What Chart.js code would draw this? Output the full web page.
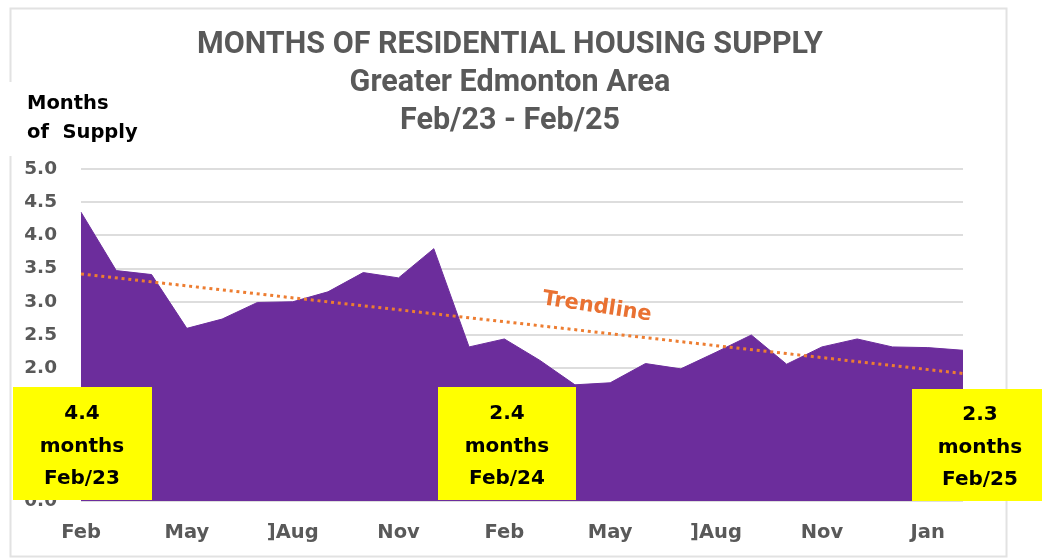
<!DOCTYPE html>
<html>
<head>
<meta charset="utf-8">
<script src="https://cdn.jsdelivr.net/npm/chart.js@4.4.1/dist/chart.umd.min.js"></script>
<style>
  html, body { margin: 0; padding: 0; background: #ffffff; }
  #wrap { width: 1042px; height: 558px; position: relative; }
</style>
</head>
<body>
<div id="wrap"><canvas id="c" width="1042" height="558"></canvas></div>
<script>
// ---- Data ----
const categories = ['Feb','','','May','','',']Aug','','','Nov','','',
                    'Feb','','','May','','',']Aug','','','Nov','','','Jan',''];
const supplyValues = [4.35, 3.47, 3.41, 2.60, 2.74, 2.99, 3.00, 3.15, 3.44, 3.36, 3.80, 2.32,
                      2.44, 2.12, 1.75, 1.78, 2.07, 1.99, 2.24, 2.50, 2.06, 2.32, 2.44, 2.32, 2.31, 2.27];
const trendStart = 3.42;
const trendEnd = 1.92;
const trendValues = categories.map((_, i) => i === 0 ? trendStart : (i === categories.length - 1 ? trendEnd : null));
const yTicks = [0, 0.5, 1, 1.5, 2, 2.5, 3, 3.5, 4, 4.5, 5];
const titleLines = ['MONTHS OF RESIDENTIAL HOUSING SUPPLY', 'Greater Edmonton Area', 'Feb/23 - Feb/25'];
const yTitleLines = ['Months', 'of  Supply'];
const calloutValues = ['4.4', '2.4', '2.3'];
const calloutPeriods = ['Feb/23', 'Feb/24', 'Feb/25'];
const trendLabel = 'Trendline';

// ---- Styles ----
const PURPLE = '#6C2D9C';
const ORANGE = '#ED7D31';
const GRAY = '#595959';
const BOLD = '"DejaVu Sans", sans-serif';

const decorPlugin = {
  id: 'decor',
  beforeDraw(chart) {
    const ctx = chart.ctx;
    ctx.save();
    ctx.fillStyle = '#ffffff';
    ctx.fillRect(0, 0, chart.width, chart.height);
    // outer frame
    ctx.strokeStyle = '#e2e2e2';
    ctx.lineWidth = 2;
    ctx.strokeRect(10.5, 8.5, 996, 548);
    // white box behind y title
    ctx.fillStyle = '#ffffff';
    ctx.fillRect(4, 82, 150, 74);
    // title
    ctx.fillStyle = GRAY;
    ctx.textAlign = 'center';
    ctx.textBaseline = 'middle';
    ctx.font = 'bold 30.5px Roboto, sans-serif';
    const ty = [45, 83, 121];
    titleLines.forEach((t, i) => ctx.fillText(t, 510, ty[i]));
    // y-axis title
    ctx.fillStyle = '#000000';
    ctx.textAlign = 'left';
    ctx.font = 'bold 19.5px ' + BOLD;
    ctx.fillText(yTitleLines[0], 27, 104);
    ctx.fillText(yTitleLines[1], 27, 133);
    ctx.restore();
  },
  afterDatasetsDraw(chart) {
    const ctx = chart.ctx;
    ctx.save();
    // trendline label
    ctx.fillStyle = '#E97132';
    ctx.font = 'bold 21px ' + BOLD;
    ctx.textAlign = 'center';
    ctx.textBaseline = 'middle';
    ctx.translate(597, 307);
    ctx.rotate(8.5 * Math.PI / 180);
    ctx.fillText(trendLabel, 0, 0);
    ctx.setTransform(1, 0, 0, 1, 0, 0);
    // callout boxes
    const boxes = [
      {left: 13, right: 152, top: 387, bottom: 500, cx: 82},
      {left: 438, right: 576, top: 387, bottom: 500, cx: 507},
      {left: 912, right: 1042, top: 389, bottom: 501, cx: 980}
    ];
    boxes.forEach((b, i) => {
      ctx.fillStyle = '#FFFF00';
      ctx.fillRect(b.left, b.top, b.right - b.left, b.bottom - b.top);
      ctx.fillStyle = '#000000';
      ctx.font = 'bold 20px ' + BOLD;
      ctx.textAlign = 'center';
      ctx.textBaseline = 'middle';
      const lines = [calloutValues[i], 'months', calloutPeriods[i]];
      lines.forEach((t, k) => ctx.fillText(t, b.cx, 414 + k * 32.5 + (i === 2 ? 1 : 0)));
    });
    ctx.restore();
  }
};

new Chart(document.getElementById('c'), {
  type: 'line',
  data: {
    labels: categories,
    datasets: [
      {
        label: 'Months of Supply',
        data: supplyValues,
        fill: 'origin',
        backgroundColor: PURPLE,
        borderColor: PURPLE,
        borderWidth: 1,
        pointRadius: 0,
        tension: 0,
        order: 2
      },
      {
        label: 'Trendline',
        data: trendValues,
        spanGaps: true,
        fill: false,
        borderColor: ORANGE,
        borderWidth: 3,
        borderDash: [3, 3.8],
        pointRadius: 0,
        tension: 0,
        order: 1
      }
    ]
  },
  options: {
    responsive: false,
    animation: false,
    devicePixelRatio: 1,
    layout: { padding: { left: 0, top: 169, right: 79, bottom: 7 } },
    plugins: {
      legend: { display: false },
      title: { display: false },
      tooltip: { enabled: false }
    },
    scales: {
      x: {
        offset: false,
        grid: { display: false, drawTicks: false },
        border: { display: false },
        ticks: {
          autoSkip: false,
          maxRotation: 0,
          minRotation: 0,
          padding: 20,
          color: GRAY,
          font: { family: BOLD, size: 19.5, weight: 'bold' }
        },
        afterFit(scale) { scale.height = 50; }
      },
      y: {
        min: 0,
        max: 5,
        afterBuildTicks(scale) { scale.ticks = yTicks.map(v => ({ value: v })); },
        grid: { color: '#dddddd', lineWidth: 2, drawTicks: false },
        border: { display: false },
        ticks: {
          padding: 24,
          color: GRAY,
          font: { family: BOLD, size: 18.5, weight: 'bold' },
          callback: v => Number(v).toFixed(1)
        },
        afterFit(scale) { scale.width = 81; }
      }
    }
  },
  plugins: [decorPlugin]
});
</script>
</body>
</html>
